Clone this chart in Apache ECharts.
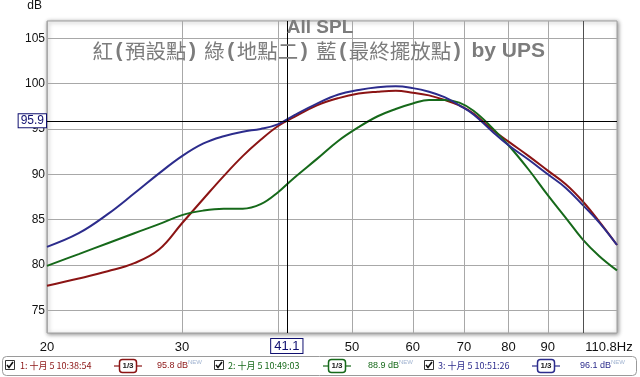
<!DOCTYPE html>
<html lang="zh-Hant">
<head>
<meta charset="UTF-8">
<title>All SPL</title>
<script src="https://cdn.jsdelivr.net/npm/echarts@6/dist/echarts.min.js"></script>
<style>
    html, body { margin: 0; padding: 0; background: #fff; }
    #chart { width: 640px; height: 377px; }
</style>
</head>
<body>
<div id="chart"></div>
<script>
    // 頻率 (Hz) 與三條量測曲線 (dB)
    var freqHz = [20, 22, 24, 26, 28, 30, 32, 34, 36, 38, 40, 42, 45, 48, 51, 54, 57, 60, 63, 66, 69, 72, 76, 80, 85, 90, 95, 100, 105, 110.8];
    var redDb = [77.7, 78.5, 79.3, 80.2, 81.7, 84.6, 87.3, 89.8, 92.0, 93.8, 95.3, 96.3, 97.6, 98.4, 98.9, 99.1, 99.2, 99.0, 98.7, 98.2, 97.6, 96.7, 95.0, 93.6, 92.0, 90.4, 88.9, 87.0, 84.8, 82.2];
    var greenDb = [79.9, 81.2, 82.4, 83.5, 84.5, 85.5, 86.0, 86.2, 86.2, 86.7, 88.0, 89.6, 91.7, 93.7, 95.2, 96.4, 97.2, 97.8, 98.2, 98.2, 97.9, 97.0, 95.2, 93.2, 90.5, 87.7, 85.2, 82.8, 81.0, 79.4];
    var blueDb = [82.0, 83.5, 85.6, 87.9, 90.1, 92.0, 93.4, 94.2, 94.7, 95.0, 95.5, 96.5, 97.8, 98.8, 99.3, 99.6, 99.7, 99.5, 99.1, 98.5, 97.6, 96.6, 94.8, 93.2, 91.6, 90.0, 88.5, 86.6, 84.7, 82.2];

    // 座標軸刻度
    var xGridHz = [20, 30, 40, 50, 60, 70, 80, 90, 100];
    var xLabelHz = [20, 30, 50, 60, 70, 80, 90, 110.8];
    var yTicks = [75, 80, 85, 90, 95, 100, 105];

    // 游標與圖例
    var cursorHz = 41.1;
    var cursorDb = 95.9;
    var traceNames = ['1: 十月 5 10:38:54', '2: 十月 5 10:49:03', '3: 十月 5 10:51:26'];
    var traceValues = ['95.8 dB', '88.9 dB', '96.1 dB'];
    var traceColors = ['#8b1414', '#16691a', '#2c2c8c'];

    function pairs(ys) {
        var out = [];
        for (var i = 0; i < freqHz.length; i++) out.push([freqHz[i], ys[i]]);
        return out;
    }

    var font = 'Arial, "Liberation Sans", sans-serif';
    var cjk = '"Noto Sans CJK TC", "Noto Sans CJK SC", sans-serif';

    // 底部圖例 (checkbox, 名稱, 1/3 平滑, 數值)
    var legendX = [
        { box: 5, name: 20, oct: 128, val: 157 },
        { box: 214, name: 228, oct: 337, val: 368 },
        { box: 424, name: 438, oct: 546, val: 580 }
    ];
    var graphics = [{
        type: 'rect',
        shape: { x: 2.5, y: 356.5, width: 634, height: 19, r: 4 },
        style: { fill: '#fff', stroke: '#9a9a9a', lineWidth: 1 }
    }];
    for (var k = 0; k < 3; k++) {
        var p = legendX[k], c = traceColors[k];
        graphics.push({
            type: 'rect',
            shape: { x: p.box + 0.5, y: 360.5, width: 9, height: 9 },
            style: { fill: '#fff', stroke: '#333', lineWidth: 1 }
        });
        graphics.push({
            type: 'polyline',
            shape: { points: [[p.box + 2, 365], [p.box + 4, 367.5], [p.box + 8, 362]] },
            style: { stroke: '#111', lineWidth: 1.6, fill: null }
        });
        graphics.push({
            type: 'text', x: p.name, y: 366,
            style: { text: traceNames[k], fill: c, font: '9px ' + cjk, verticalAlign: 'middle' }
        });
        graphics.push({
            type: 'line',
            shape: { x1: p.oct - 14, y1: 366, x2: p.oct + 14, y2: 366 },
            style: { stroke: c, lineWidth: 1.2 }
        });
        graphics.push({
            type: 'rect',
            shape: { x: p.oct - 8.5, y: 359.5, width: 17, height: 13, r: 3 },
            style: { fill: '#fff', stroke: c, lineWidth: 1.5 }
        });
        graphics.push({
            type: 'text', x: p.oct, y: 366,
            style: { text: '1/3', fill: '#222', font: 'bold 8px ' + font, align: 'center', verticalAlign: 'middle' }
        });
        graphics.push({
            type: 'text', x: p.val, y: 366,
            style: { text: traceValues[k], fill: c, font: '9px ' + font, verticalAlign: 'middle' }
        });
        graphics.push({
            type: 'text', x: p.val + 31, y: 362,
            style: { text: 'NEW', fill: '#9fb2d0', font: '6px ' + font, verticalAlign: 'middle' }
        });
    }

    var chart = echarts.init(document.getElementById('chart'));
    var option = {
        backgroundColor: '#fff',
        animation: false,
        title: [
            {
                text: 'All SPL',
                left: 'center', top: 13,
                textStyle: { fontFamily: font, fontSize: 19, fontWeight: 'bold', color: '#7c7c7c' }
            },
            {
                text: '{c|紅}{p|(}{c|預設點}{p|)} {c|綠}{p|(}{c|地點二}{p|)} {c|藍}{p|(}{c|最終擺放點}{p|)} {p|by UPS}',
                left: 'center', top: 36,
                textStyle: {
                    fontSize: 21, fontFamily: font, fontWeight: 'bold', color: '#7c7c7c',
                    rich: {
                        c: { fontFamily: cjk, fontSize: 20.5, fontWeight: 'normal', color: '#7c7c7c' },
                        p: { fontFamily: font, fontSize: 21, fontWeight: 'bold', color: '#7c7c7c', padding: [0, 2.5, 0, 2.5] }
                    }
                }
            }
        ],
        grid: {
            left: 47, right: 23, top: 16, bottom: 44,
            show: true,
            backgroundColor: '#fff',
            borderColor: '#a0a0a0',
            borderWidth: 1,
            shadowColor: 'rgba(0,0,0,0.45)',
            shadowBlur: 4,
            shadowOffsetX: 1,
            shadowOffsetY: 1
        },
        xAxis: {
            type: 'log',
            logBase: 10,
            min: 20,
            max: 110.8,
            axisLine: { show: false },
            axisTick: { show: false, customValues: xGridHz },
            splitLine: { show: true, lineStyle: { color: '#a8a8a8', width: 1 } },
            minorSplitLine: { show: false },
            axisLabel: {
                customValues: xLabelHz,
                margin: 8,
                fontFamily: font,
                fontSize: 13,
                color: '#111',
                formatter: function (v) {
                    return Math.abs(v - 110.8) < 0.01 ? '{last|110.8Hz}' : String(Math.round(v));
                },
                rich: { last: { fontFamily: font, fontSize: 13, color: '#111', padding: [0, 16, 0, 0] } }
            }
        },
        yAxis: {
            type: 'value',
            min: 72.5,
            max: 106.9,
            name: 'dB',
            nameLocation: 'end',
            nameGap: 9,
            nameTextStyle: { fontFamily: font, fontSize: 12, color: '#111', align: 'right', padding: [0, 5, 0, 0] },
            axisLine: { show: false },
            axisTick: { show: false, customValues: yTicks },
            splitLine: { show: true, lineStyle: { color: '#a8a8a8', width: 1 } },
            axisLabel: {
                customValues: yTicks,
                margin: 2,
                fontFamily: font,
                fontSize: 12,
                color: '#111'
            }
        },
        series: [
            {
                name: 'red', type: 'line', data: pairs(redDb), smooth: 0.4,
                showSymbol: false, lineStyle: { color: traceColors[0], width: 2 }, z: 3,
                markLine: {
                    silent: true, symbol: 'none', animation: false,
                    data: [
                        {
                            xAxis: 100,
                            lineStyle: { color: '#505050', width: 1, type: 'solid' },
                            label: { show: false }
                        },
                        {
                            xAxis: cursorHz,
                            lineStyle: { color: '#000', width: 1, type: 'solid' },
                            label: {
                                show: true, position: 'start', distance: 6,
                                formatter: '41.1', color: '#101070', fontFamily: font, fontSize: 13,
                                backgroundColor: '#fff', borderColor: '#101070', borderWidth: 1,
                                padding: [1, 3, 0, 3]
                            }
                        },
                        {
                            yAxis: cursorDb,
                            lineStyle: { color: '#000', width: 1, type: 'solid' },
                            label: {
                                show: true, position: 'start', distance: 1,
                                formatter: '95.9', color: '#101070', fontFamily: font, fontSize: 12,
                                backgroundColor: '#fff', borderColor: '#101070', borderWidth: 1,
                                padding: [1, 2, 0, 2]
                            }
                        }
                    ]
                }
            },
            {
                name: 'green', type: 'line', data: pairs(greenDb), smooth: 0.4,
                showSymbol: false, lineStyle: { color: traceColors[1], width: 2 }, z: 3
            },
            {
                name: 'blue', type: 'line', data: pairs(blueDb), smooth: 0.4,
                showSymbol: false, lineStyle: { color: traceColors[2], width: 2 }, z: 3
            }
        ],
        graphic: graphics
    };
    chart.setOption(option);
</script>
</body>
</html>
